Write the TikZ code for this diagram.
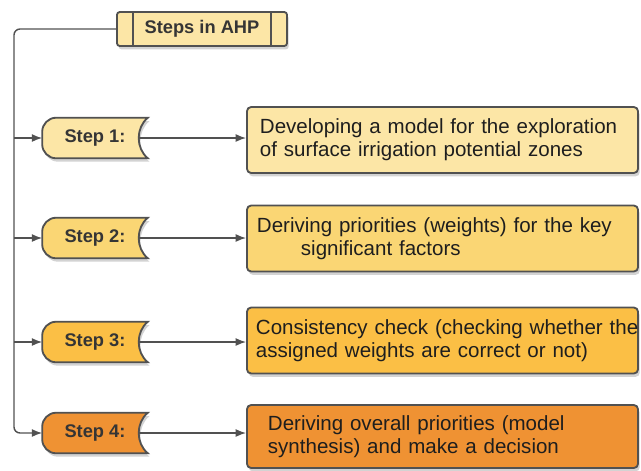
\documentclass[tikz,border=0pt]{standalone}
\usepackage{fontspec}
\setmainfont{Liberation Sans}
\usetikzlibrary{arrows.meta,shadows,backgrounds}

\definecolor{ahpone}{HTML}{FCE6A6}
\definecolor{ahptwo}{HTML}{FAD674}
\definecolor{ahpthree}{HTML}{FBBF45}
\definecolor{ahpfour}{HTML}{EF9233}
\definecolor{linegray}{HTML}{515151}
\definecolor{textdark}{HTML}{1E1E1E}

\tikzset{
	conn/.style={draw=linegray, line width=1pt, -{Latex[length=2.6mm,width=2mm]}},
	softshadow/.style={drop shadow={shadow xshift=1.2pt, shadow yshift=-2.4pt, opacity=0.35}},
	titlebox/.style={draw=linegray, line width=1.3pt, fill=ahpone, rounded corners=2pt,
		minimum width=4.25cm, minimum height=0.85cm, softshadow,
		font=\fontsize{13}{15}\selectfont\bfseries, text=textdark!90},
	stepnode/.style={minimum width=2.625cm, minimum height=1cm, inner sep=0pt,
		font=\fontsize{13}{15}\selectfont\bfseries, text=textdark!90},
	boxnode/.style={draw=linegray, line width=1.3pt, rounded corners=3pt, align=left,
		minimum width=9.775cm, minimum height=1.65cm, softshadow,
		font=\fontsize{14.6}{16.6}\selectfont, text=textdark}
}

% step tag: round left end, hollow right end
\newcommand{\stepshape}[2]{%
	\draw[linegray, line width=1.3pt, fill=#2, softshadow]
		(#1.north east) -- ([xshift=0.35cm]#1.north west) arc (90:180:0.35cm)
		-- ([yshift=0.35cm]#1.south west) arc (180:270:0.35cm)
		-- (#1.south east) to[bend left=50] (#1.north east) -- cycle;}

\begin{document}
\begin{tikzpicture}[x=0.025cm, y=-0.025cm]
	\useasboundingbox (0,0) rectangle (641,470);

	\node[titlebox] (ttl) at (202,29) {Steps in AHP};
	\draw[linegray, line width=1.3pt] ([xshift=0.425cm]ttl.north west) -- ([xshift=0.425cm]ttl.south west);
	\draw[linegray, line width=1.3pt] ([xshift=-0.425cm]ttl.north east) -- ([xshift=-0.425cm]ttl.south east);

	\node[stepnode] (s1) at (95,138) {Step 1:};
	\node[stepnode] (s2) at (95,238) {Step 2:};
	\node[stepnode] (s3) at (95,342) {Step 3:};
	\node[stepnode] (s4) at (95,433) {Step 4:};
	\begin{scope}[on background layer]
		\stepshape{s1}{ahpone}
		\stepshape{s2}{ahptwo}
		\stepshape{s3}{ahpthree}
		\stepshape{s4}{ahpfour}
	\end{scope}

	\node[boxnode, fill=ahpone, inner xsep=0.325cm, text width=9.125cm] (b1) at (442.5,140)
		{\mbox{Developing a model for the exploration}\\of surface irrigation potential zones};
	\node[boxnode, fill=ahptwo, inner xsep=0.25cm, text width=9.275cm] (b2) at (442.5,238.5)
		{\mbox{Deriving priorities (weights) for the key}\\\hspace*{1.1cm}significant factors};
	\node[boxnode, fill=ahpthree, inner xsep=0.225cm, text width=9.325cm] (b3) at (442.5,340.5)
		{\mbox{Consistency check (checking whether the}\\assigned weights are correct or not)};
	\node[boxnode, fill=ahpfour, inner xsep=0.525cm, text width=8.725cm, minimum height=1.575cm] (b4) at (442.5,436.5)
		{Deriving overall priorities (model\\synthesis) and make a decision};

	% trunk from the title down to the steps
	\coordinate (trk) at (14,433);
	\draw[conn, rounded corners=0.15cm] (ttl.west) -| (trk) -- (s4.west);
	\foreach \i in {1,2,3}
		\draw[conn] (s\i.west -| trk) -- (s\i.west);
	\foreach \i in {1,...,4}
		\draw[conn] ([xshift=-0.25cm]s\i.east) -- (s\i.east -| b\i.west);
\end{tikzpicture}
\end{document}
